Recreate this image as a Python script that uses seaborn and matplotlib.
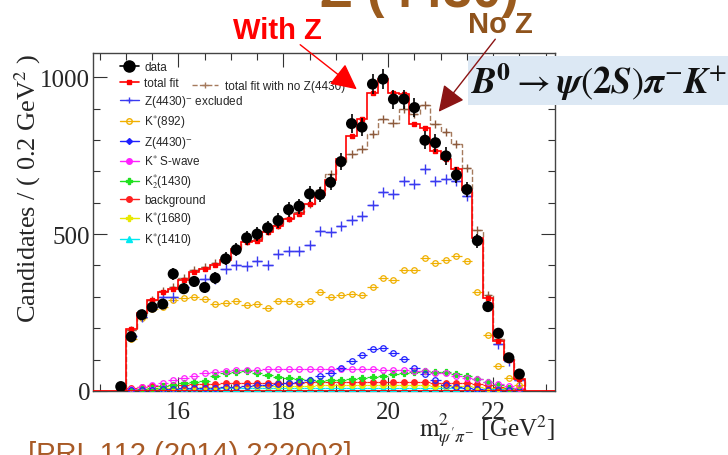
import numpy as np
import matplotlib
matplotlib.use("Agg")
import matplotlib.pyplot as plt
from matplotlib.lines import Line2D
from matplotlib.patches import Rectangle, FancyArrowPatch
from matplotlib.ticker import MultipleLocator
import seaborn as sns

# bin centres in GeV^2 (0.2 GeV^2 bins)
mass = [14.9, 15.1, 15.3, 15.5, 15.7, 15.9, 16.1, 16.3, 16.5, 16.7,
        16.9, 17.1, 17.3, 17.5, 17.7, 17.9, 18.1, 18.3, 18.5, 18.7,
        18.9, 19.1, 19.3, 19.5, 19.7, 19.9, 20.1, 20.3, 20.5, 20.7,
        20.9, 21.1, 21.3, 21.5, 21.7, 21.9, 22.1, 22.3, 22.5]
data = [14, 173, 243, 267, 277, 373, 326, 349, 330, 360,
        421, 450, 488, 500, 520, 543, 578, 589, 628, 626,
        665, 731, 852, 841, 978, 994, 930, 930, 903, 799,
        791, 749, 688, 642, 479, 269, 184, 106, 54]

# fit components are defined from 15.1 on
fit_mass = mass[1:]
total_fit = [197, 248, 291, 317, 325, 355, 379, 389, 400, 419,
             453, 475, 477, 507, 525, 549, 565, 597, 626, 672,
             738, 812, 866, 951, 994, 951, 946, 850, 839, 765,
             738, 706, 642, 488, 296, 158, 99, 37]
no_z_fit = [195, 250, 290, 318, 330, 360, 385, 395, 408, 425,
            455, 478, 485, 510, 530, 552, 570, 595, 640, 690,
            728, 756, 772, 818, 868, 855, 898, 882, 911, 850,
            825, 786, 711, 514, 307, 165, 102, 38]
z_excluded = [175, 235, 268, 298, 300, 330, 352, 357, 357, 389,
              403, 399, 413, 400, 435, 447, 447, 466, 509, 506,
              525, 546, 557, 594, 634, 628, 669, 658, 706, 669,
              674, 669, 621, 480, 280, 150, 95, 35]
k892 = [165, 232, 262, 269, 291, 296, 301, 293, 277, 280,
        288, 275, 277, 264, 288, 288, 277, 288, 314, 300,
        305, 309, 305, 330, 360, 355, 387, 384, 424, 408,
        416, 429, 415, 314, 179, 80, 41, 19]
z4430 = [2, 3, 4, 6, 7, 8, 9, 10, 11, 13,
         14, 16, 18, 20, 22, 25, 30, 35, 48, 58,
         72, 94, 115, 133, 138, 122, 101, 72, 54, 35,
         19, 12, 8, 5, 4, 3, 2, 1]
k_swave = [6, 12, 19, 25, 35, 43, 49, 57, 62, 65,
           66, 67, 68, 69, 69, 70, 70, 70, 70, 70,
           70, 70, 69, 69, 68, 66, 66, 65, 64, 58,
           56, 48, 43, 37, 30, 22, 16, 9]
k2_1430 = [3, 6, 10, 15, 20, 25, 29, 33, 48, 58,
           62, 63, 58, 50, 46, 43, 37, 34, 33, 34,
           35, 37, 41, 44, 48, 54, 58, 61, 63, 62,
           60, 54, 48, 37, 28, 19, 10, 4]
background = [8, 12, 15, 17, 19, 20, 21, 22, 23, 24,
              24, 25, 25, 26, 26, 27, 27, 28, 28, 28,
              28, 28, 28, 28, 28, 28, 28, 28, 28, 27,
              27, 26, 25, 22, 18, 14, 10, 5]
k1680 = [3, 5, 6, 8, 9, 10, 11, 12, 13, 14,
         14, 15, 15, 16, 16, 17, 17, 17, 18, 18,
         18, 18, 18, 18, 18, 18, 18, 18, 18, 17,
         17, 16, 15, 13, 11, 9, 6, 3]
k1410 = [2, 3, 4, 5, 5, 6, 6, 7, 7, 8,
         8, 8, 9, 9, 9, 9, 10, 10, 10, 10,
         10, 10, 10, 10, 10, 10, 10, 10, 9, 9,
         9, 8, 8, 7, 6, 5, 3, 2]

sns.set_style("ticks")
plt.rcParams["font.family"] = ["Liberation Serif", "DejaVu Serif"]
plt.rcParams["mathtext.fontset"] = "stix"

W, H = 728, 456
fig = plt.figure(figsize=(W / 100, H / 100), dpi=100)


def fx(px):
    return px / W


def fy(py):
    return 1 - py / H


ax = fig.add_axes([fx(93), fy(392), (555 - 93) / W, (392 - 54) / H])

half = 0.1
edges = np.append(np.array(fit_mass) - half, fit_mass[-1] + half)

# components: values, colour, marker, open marker
components = [
    (k1410, "#00e8f0", "^", False),
    (k1680, "#e8e800", "o", False),
    (background, "#ff2020", "o", False),
    (k2_1430, "#20e020", "P", False),
    (k_swave, "#ff20ff", "o", True),
    (z4430, "#2020ff", "o", True),
    (k892, "#f0b000", "o", True),
]
for vals, c, m, hollow in components:
    ax.errorbar(fit_mass, vals, xerr=half, fmt=m, color=c, ms=4,
                mfc="none" if hollow else c, mew=0.9, elinewidth=0.9,
                capsize=0, zorder=3)

ax.errorbar(fit_mass, z_excluded, xerr=half, fmt="+", color="#3a3af0",
            ms=7, mew=1.0, elinewidth=1.0, capsize=0, zorder=3)

# total fit without Z
ax.stairs(no_z_fit, edges, color="#a57a5c", ls="--", lw=1.0, zorder=4)
ax.plot(fit_mass, no_z_fit, "+", color="#8c5a3c", ms=6, mew=1.0, zorder=4)

# total fit
ax.axhline(0, color="red", lw=2, zorder=4)
ax.stairs(total_fit, edges, color="red", lw=1.2, zorder=5)
ax.plot(fit_mass, total_fit, "s", color="red", ms=2.5, zorder=5)

# data
ax.errorbar(mass, data, yerr=np.sqrt(data), fmt="none", ecolor="black",
            elinewidth=1.2, capsize=0, zorder=6)
sns.scatterplot(x=mass, y=data, color="black", s=64, edgecolor="none",
                ax=ax, zorder=7, legend=False)

ax.set_xlim(14.37, 23.18)
ax.set_ylim(0, 1077)
ax.xaxis.set_major_locator(MultipleLocator(2))
ax.xaxis.set_minor_locator(MultipleLocator(0.5))
ax.yaxis.set_major_locator(MultipleLocator(500))
ax.yaxis.set_minor_locator(MultipleLocator(100))
ax.tick_params(which="both", direction="in", top=True, right=True,
               labelsize=18, color="#333333", width=0.8)
ax.tick_params(which="major", length=10)
ax.tick_params(which="minor", length=5)
ax.tick_params(axis="x", pad=7)
ax.tick_params(axis="y", pad=2)
for s in ax.spines.values():
    s.set_color("#444444")
    s.set_linewidth(1.0)
ax.set_xlabel("")
ax.set_ylabel("")

fig.text(fx(28), fy(53), "Candidates / ( 0.2 GeV$^{2}$ )", rotation=90,
         ha="center", va="top", fontsize=19)
fig.text(fx(555), fy(437), r"$\mathrm{m}^{2}_{\psi'\pi^{-}}$ [GeV$^{2}$]",
         ha="right", va="baseline", fontsize=18)

# legend
leg_font = {"family": "Liberation Sans", "size": 8.5}
handles = [
    Line2D([], [], color="black", marker="o", ms=8, lw=1.2),
    Line2D([], [], color="red", marker="s", ms=3, lw=1.2),
    Line2D([], [], color="#3a3af0", marker="+", ms=5, lw=1.0),
    Line2D([], [], color="#f0b000", marker="o", ms=4, mfc="none", lw=1.0),
    Line2D([], [], color="#2020ff", marker="D", ms=3, lw=1.0),
    Line2D([], [], color="#ff20ff", marker="o", ms=4, lw=1.0),
    Line2D([], [], color="#20e020", marker="P", ms=4, lw=1.0),
    Line2D([], [], color="#ff2020", marker="o", ms=4, lw=1.0),
    Line2D([], [], color="#e8e800", marker="P", ms=4, lw=1.0),
    Line2D([], [], color="#00e8f0", marker="^", ms=4, lw=1.0),
]
labels = ["data", "total fit", "Z(4430)$^{-}$ excluded", "K$^{*}$(892)",
          "Z(4430)$^{-}$", "K$^{*}$ S-wave", "K$^{*}_{2}$(1430)", "background",
          "K$^{*}$(1680)", "K$^{*}$(1410)"]
leg1 = ax.legend(handles, labels, loc="upper left",
                 bbox_to_anchor=(fx(120), fy(62)), bbox_transform=fig.transFigure,
                 frameon=False, prop=leg_font, handlelength=1.6,
                 handletextpad=0.45, labelspacing=0.33, borderpad=0,
                 borderaxespad=0)
ax.add_artist(leg1)
ax.legend([Line2D([], [], color="#a57a5c", ls="--", marker="+", ms=5, lw=1.0)],
          ["total fit with no Z(4430)"], loc="upper left",
          bbox_to_anchor=(fx(192), fy(81)), bbox_transform=fig.transFigure,
          frameon=False, prop=leg_font, handlelength=2.2, handletextpad=0.6,
          borderpad=0, borderaxespad=0)

# annotations around the plot (the title above is mostly cut off)
fig.text(fx(320), fy(7), "Z (4430)", color="#9a5b1e", fontsize=38,
         weight="bold", family="Liberation Sans", ha="left", va="baseline")
fig.text(fx(233), fy(39), "With Z", color="red", fontsize=21,
         weight="bold", family="Liberation Sans", ha="left", va="baseline")
fig.text(fx(468), fy(33), "No Z", color="#8f531c", fontsize=21,
         weight="bold", family="Liberation Sans", ha="left", va="baseline")
fig.text(fx(28), fy(463), "[PRL 112 (2014) 222002]", color="#a85a26",
         fontsize=21, family="Liberation Sans", ha="left", va="baseline")

fig.add_artist(FancyArrowPatch((fx(298), fy(44)), (fx(359), fy(92)),
                               transform=fig.transFigure,
                               arrowstyle="-|>,head_length=0.8,head_width=0.4",
                               mutation_scale=20, color="red", lw=1.0, zorder=6))
fig.add_artist(FancyArrowPatch((fx(497), fy(38)), (fx(437), fy(115)),
                               transform=fig.transFigure,
                               arrowstyle="-|>,head_length=0.8,head_width=0.4",
                               mutation_scale=20, color="#8b1414", lw=1.0, zorder=6))

fig.add_artist(Rectangle((fx(468), fy(106)), (W - 468) / W, (106 - 57) / H,
                         transform=fig.transFigure, facecolor="#dce8f4",
                         edgecolor="none", zorder=5))
fig.text(fx(471), fy(82),
         r"$\mathbfit{B}^{\mathbf{0}} \rightarrow \mathbfit{\psi}(\mathbf{2}\mathbfit{S})"
         r"\mathbfit{\pi}^{-}\mathbfit{K}^{+}$",
         fontsize=26.5, color="#111111", ha="left", va="center", zorder=7)

fig.savefig("out.png", dpi=100)
